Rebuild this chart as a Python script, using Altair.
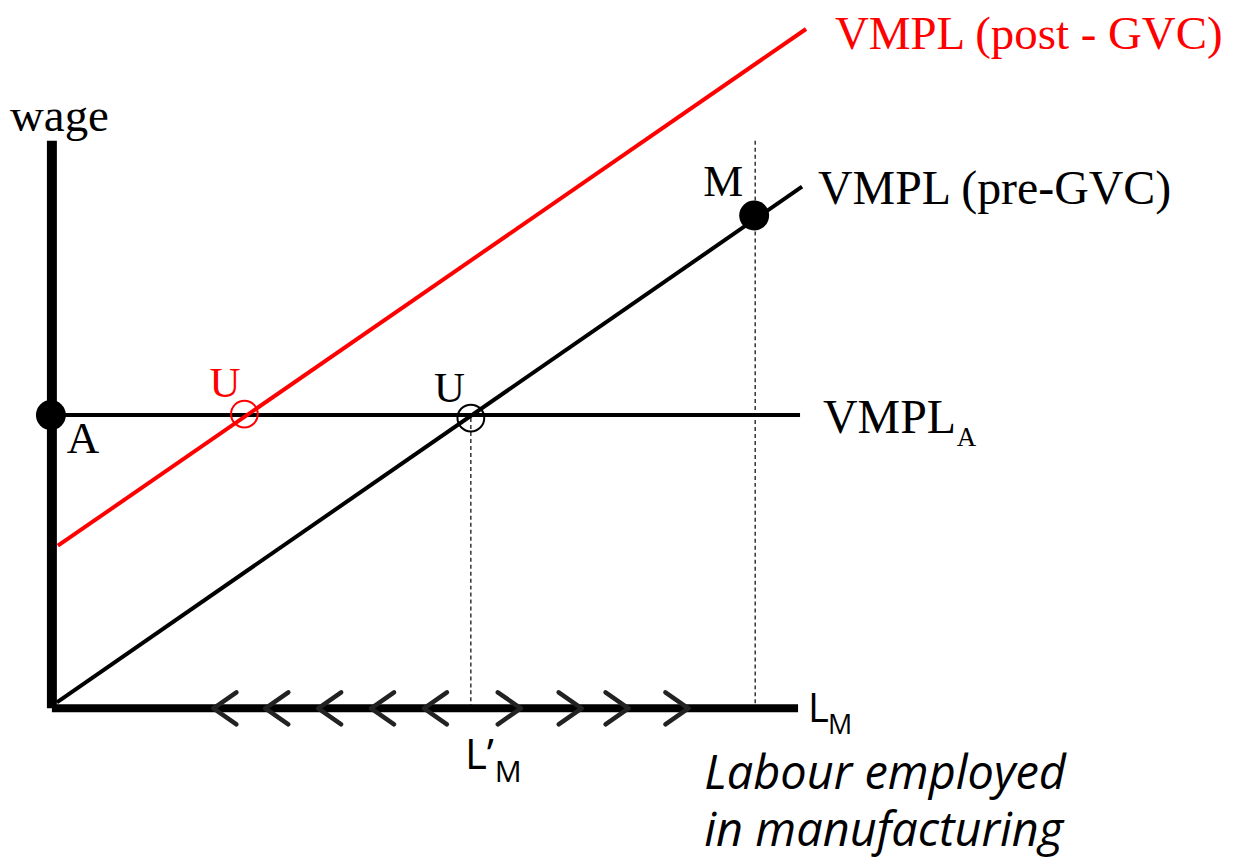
import altair as alt
import pandas as pd

# ---- diagram data (coordinates in the figure's own units: x = labour, y = wage, y grows downward) ----
# axes
axis_name = ["wage axis", "labour axis"]
axis_x1 = [52, 52]
axis_y1 = [140, 709]
axis_x2 = [52, 800]
axis_y2 = [709, 709]

# VMPL curves
curve_name = ["VMPL_A", "VMPL (pre-GVC)", "VMPL (post - GVC)"]
curve_x1 = [52, 57, 58]
curve_y1 = [415, 703, 546]
curve_x2 = [802, 804, 808]
curve_y2 = [415, 186, 28]
curve_color = ["black", "black", "red"]

# dashed guides
guide_x = [472, 757]
guide_top = [418, 140]
guide_bottom = [706, 706]

# filled equilibrium points
dot_name = ["A", "M"]
dot_x = [51, 756]
dot_y = [415, 215]

# open circles (U)
ring_x = [245, 472]
ring_y = [414, 418]
ring_color = ["red", "black"]

# adjustment chevrons along the labour axis
left_tips = [214, 266, 319, 372, 425]
right_tips = [522, 583, 630, 690]
axis_level = 709
arm_dx = 23
arm_dy = 16

# serif labels
serif_text = ["wage", "A", "M", "U", "U", "VMPL (pre-GVC)", "VMPL (post - GVC)", "VMPL", "A"]
serif_x = [10, 67, 705, 210, 435, 820, 837, 825, 959]
serif_y = [130, 453, 195, 397, 402, 203, 48, 433, 446]
serif_size = [47, 45, 45, 43, 43, 48, 47, 48, 27]
serif_color = ["black", "black", "black", "red", "black", "black", "red", "black", "black"]

# sans labels
sans_text = ["L", "M", "L\u2019", "M"]
sans_x = [810, 830, 466, 496]
sans_y = [723, 735, 770, 783]
sans_size = [40, 27, 42, 30]

italic_text = ["Labour employed\nin manufacturing"]
italic_x = [706]
italic_y = [790]

# ---- build ----
W, H = 1222, 852
xs = alt.Scale(domain=[8, 8 + W], nice=False, zero=False)
ys = alt.Scale(domain=[8, 8 + H], nice=False, zero=False, reverse=True)


def X(f):
    return alt.X(f, type="quantitative", scale=xs, axis=None)


def Y(f):
    return alt.Y(f, type="quantitative", scale=ys, axis=None)


axes_df = pd.DataFrame({"name": axis_name, "x": axis_x1, "y": axis_y1, "x2": axis_x2, "y2": axis_y2})
yaxis = alt.Chart(axes_df.iloc[[0]]).mark_rule(strokeWidth=10, color="black").encode(
    x=X("x"), y=Y("y"), x2="x2", y2="y2")
xaxis = alt.Chart(axes_df.iloc[[1]]).mark_rule(strokeWidth=8, color="black").encode(
    x=X("x"), y=Y("y"), x2="x2", y2="y2")

curves_df = pd.DataFrame({"name": curve_name, "x": curve_x1, "y": curve_y1,
                          "x2": curve_x2, "y2": curve_y2, "c": curve_color})
curves = alt.Chart(curves_df).mark_rule(strokeWidth=4).encode(
    x=X("x"), y=Y("y"), x2="x2", y2="y2", color=alt.Color("c:N", scale=None))

guides_df = pd.DataFrame({"x": guide_x, "y": guide_top, "y2": guide_bottom})
guides = alt.Chart(guides_df).mark_rule(strokeWidth=1.2, strokeDash=[4, 3], color="black").encode(
    x=X("x"), y=Y("y"), y2="y2")

rows = []
for t in left_tips:
    rows.append({"x": t, "y": axis_level, "x2": t + arm_dx, "y2": axis_level - arm_dy})
    rows.append({"x": t, "y": axis_level, "x2": t + arm_dx, "y2": axis_level + arm_dy})
for t in right_tips:
    rows.append({"x": t, "y": axis_level, "x2": t - arm_dx, "y2": axis_level - arm_dy})
    rows.append({"x": t, "y": axis_level, "x2": t - arm_dx, "y2": axis_level + arm_dy})
chev = alt.Chart(pd.DataFrame(rows)).mark_rule(strokeWidth=4.5, color="#222222", strokeCap="round").encode(
    x=X("x"), y=Y("y"), x2="x2", y2="y2")

dots = alt.Chart(pd.DataFrame({"name": dot_name, "x": dot_x, "y": dot_y})).mark_point(
    filled=True, size=900, color="black", opacity=1, shape="circle").encode(x=X("x"), y=Y("y"))

rings = alt.Chart(pd.DataFrame({"x": ring_x, "y": ring_y, "c": ring_color})).mark_point(
    filled=False, size=720, strokeWidth=2, opacity=1, shape="circle").encode(
    x=X("x"), y=Y("y"), color=alt.Color("c:N", scale=None))

serif = alt.Chart(pd.DataFrame({"t": serif_text, "x": serif_x, "y": serif_y,
                                "s": serif_size, "c": serif_color})).mark_text(
    font="Liberation Serif", align="left", baseline="alphabetic").encode(
    x=X("x"), y=Y("y"), text="t:N", size=alt.Size("s:Q", scale=None),
    color=alt.Color("c:N", scale=None))

sans = alt.Chart(pd.DataFrame({"t": sans_text, "x": sans_x, "y": sans_y, "s": sans_size})).mark_text(
    font="Open Sans", align="left", baseline="alphabetic", color="black").encode(
    x=X("x"), y=Y("y"), text="t:N", size=alt.Size("s:Q", scale=None))

italic = alt.Chart(pd.DataFrame({"t": italic_text, "x": italic_x, "y": italic_y})).mark_text(
    font="Open Sans", fontStyle="italic", fontSize=47, align="left", baseline="alphabetic",
    lineBreak="\n", lineHeight=57, color="black").encode(
    x=X("x"), y=Y("y"), text="t:N")

chart = alt.layer(guides, curves, xaxis, yaxis, chev, dots, rings, serif, sans, italic).properties(
    width=W, height=H, padding=0, autosize=alt.AutoSizeParams(type="none")
).configure_view(stroke=None)

chart.save("out.html", embed_options={"renderer": "svg", "actions": False})
